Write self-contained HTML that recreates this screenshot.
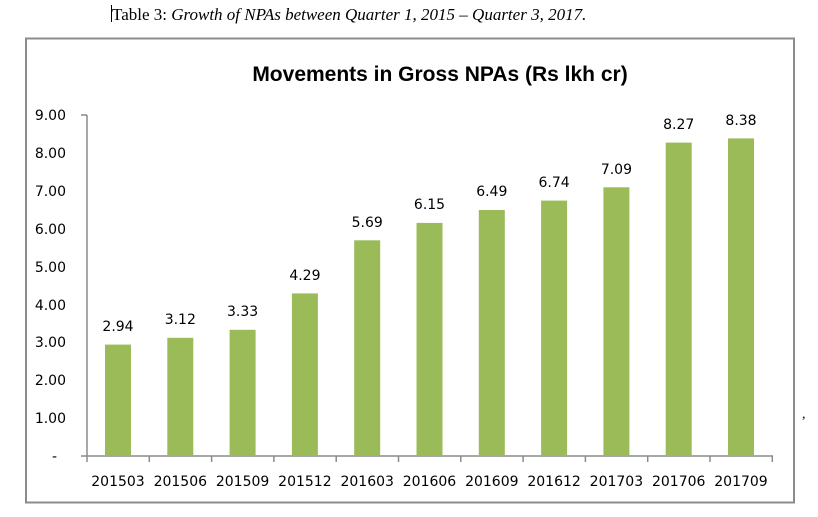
<!DOCTYPE html>
<html><head><style>
body{margin:0;background:#fff;width:818px;height:512px;overflow:hidden}
</style></head><body>
<svg width="818" height="512" xmlns="http://www.w3.org/2000/svg">
<text x="112" y="20" font-family="Liberation Serif, serif" font-size="17" fill="#000">Table 3: <tspan font-style="italic">Growth of NPAs between Quarter 1, 2015 – Quarter 3, 2017.</tspan></text>
<line x1="111.5" y1="5" x2="111.5" y2="22" stroke="#000"/>
<rect x="26" y="38.5" width="768" height="464" fill="#fff" stroke="#8c8c8c" stroke-width="2"/>
<text x="440" y="81" text-anchor="middle" font-family="Liberation Sans, sans-serif" font-weight="bold" font-size="21" fill="#000">Movements in Gross NPAs (Rs lkh cr)</text>
<g font-family="DejaVu Sans, sans-serif" font-size="14" fill="#000" text-anchor="end">
<text x="66" y="120">9.00</text><text x="66" y="158">8.00</text><text x="66" y="196">7.00</text><text x="66" y="234">6.00</text><text x="66" y="272">5.00</text><text x="66" y="310">4.00</text><text x="66" y="347">3.00</text><text x="66" y="385">2.00</text><text x="66" y="423">1.00</text><text x="57" y="461">-</text>
</g>
<g stroke="#8c8c8c" stroke-width="1.5">
<line x1="87" y1="115" x2="87" y2="456"/>
<line x1="81" y1="456" x2="773" y2="456"/>
<line x1="81" y1="115" x2="87" y2="115"/>
<line x1="87" y1="456" x2="87" y2="462"/><line x1="149.3" y1="456" x2="149.3" y2="462"/><line x1="211.6" y1="456" x2="211.6" y2="462"/><line x1="273.9" y1="456" x2="273.9" y2="462"/><line x1="336.2" y1="456" x2="336.2" y2="462"/><line x1="398.5" y1="456" x2="398.5" y2="462"/><line x1="460.8" y1="456" x2="460.8" y2="462"/><line x1="523.1" y1="456" x2="523.1" y2="462"/><line x1="585.4" y1="456" x2="585.4" y2="462"/><line x1="647.7" y1="456" x2="647.7" y2="462"/><line x1="710" y1="456" x2="710" y2="462"/><line x1="772.3" y1="456" x2="772.3" y2="462"/>
</g>
<g fill="#9bbb59">
<rect x="105" y="344.6" width="26" height="111.4"/>
<rect x="167.3" y="337.8" width="26" height="118.2"/>
<rect x="229.6" y="329.8" width="26" height="126.2"/>
<rect x="291.9" y="293.4" width="26" height="162.6"/>
<rect x="354.2" y="240.3" width="26" height="215.7"/>
<rect x="416.5" y="222.9" width="26" height="233.1"/>
<rect x="478.8" y="210" width="26" height="246"/>
<rect x="541.1" y="200.6" width="26" height="255.4"/>
<rect x="603.4" y="187.3" width="26" height="268.7"/>
<rect x="665.7" y="142.6" width="26" height="313.4"/>
<rect x="728" y="138.4" width="26" height="317.6"/>
</g>
<g font-family="DejaVu Sans, sans-serif" font-size="14" fill="#000" text-anchor="middle">
<text x="118" y="331">2.94</text><text x="180.3" y="324">3.12</text><text x="242.6" y="316">3.33</text><text x="304.9" y="280">4.29</text><text x="367.2" y="227">5.69</text><text x="429.5" y="209">6.15</text><text x="491.8" y="196">6.49</text><text x="554.1" y="187">6.74</text><text x="616.4" y="174">7.09</text><text x="678.7" y="129">8.27</text><text x="741" y="125">8.38</text>
<text x="118" y="486">201503</text><text x="180.3" y="486">201506</text><text x="242.6" y="486">201509</text><text x="304.9" y="486">201512</text><text x="367.2" y="486">201603</text><text x="429.5" y="486">201606</text><text x="491.8" y="486">201609</text><text x="554.1" y="486">201612</text><text x="616.4" y="486">201703</text><text x="678.7" y="486">201706</text><text x="741" y="486">201709</text>
</g>
<text x="802" y="418" font-family="Liberation Serif, serif" font-size="14">,</text>
</svg>
</body></html>
